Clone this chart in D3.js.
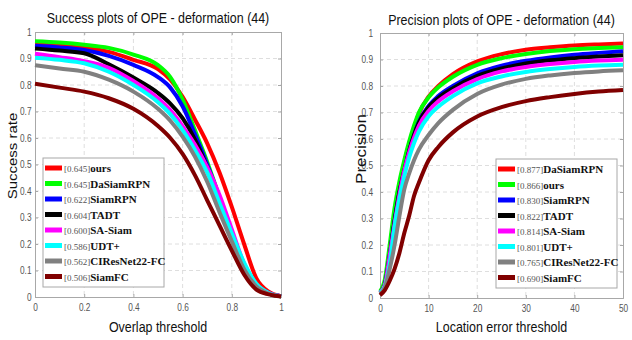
<!DOCTYPE html>
<html>
<head>
<meta charset="utf-8">
<script src="https://cdn.jsdelivr.net/npm/d3@7"></script>
<style>
  body { margin: 0; background: #fff; }
  text { font-family: "Liberation Sans", Arial, sans-serif; }
</style>
</head>
<body>
<div id="chart"></div>
<script>

// ---- data ----
var overlapT = [0, 0.1, 0.2, 0.3, 0.4, 0.5, 0.55, 0.6, 0.65, 0.7, 0.75, 0.8, 0.85, 0.9, 0.95, 1];
var errorT = [0, 1, 2, 3, 4, 5, 6, 7, 8, 10, 12, 15, 20, 25, 30, 35, 40, 45, 50];

var colors = ["#ff0000", "#00ff00", "#0000ff", "#000000", "#ff00ff", "#00ffff", "#808080", "#800000"];

var successNames = ["ours", "DaSiamRPN", "SiamRPN", "TADT", "SA-Siam", "UDT+", "CIResNet22-FC", "SiamFC"];
var successScores = ["0.645", "0.645", "0.622", "0.604", "0.600", "0.586", "0.562", "0.506"];
var successValues = [
  [0.955, 0.950, 0.942, 0.925, 0.895, 0.860, 0.820, 0.755, 0.670, 0.580, 0.470, 0.340, 0.200, 0.070, 0.020, 0.003],
  [0.965, 0.960, 0.952, 0.940, 0.915, 0.875, 0.830, 0.745, 0.630, 0.510, 0.375, 0.225, 0.100, 0.040, 0.013, 0.003],
  [0.948, 0.942, 0.932, 0.910, 0.876, 0.830, 0.790, 0.720, 0.615, 0.500, 0.375, 0.235, 0.105, 0.045, 0.015, 0.003],
  [0.938, 0.930, 0.920, 0.878, 0.828, 0.770, 0.730, 0.675, 0.595, 0.490, 0.370, 0.230, 0.110, 0.040, 0.013, 0.003],
  [0.918, 0.905, 0.890, 0.865, 0.815, 0.750, 0.705, 0.645, 0.575, 0.490, 0.385, 0.255, 0.125, 0.045, 0.015, 0.003],
  [0.903, 0.895, 0.882, 0.850, 0.800, 0.735, 0.690, 0.630, 0.555, 0.470, 0.355, 0.240, 0.130, 0.050, 0.015, 0.003],
  [0.875, 0.862, 0.850, 0.820, 0.775, 0.710, 0.665, 0.605, 0.530, 0.435, 0.320, 0.210, 0.105, 0.040, 0.013, 0.003],
  [0.805, 0.790, 0.775, 0.750, 0.710, 0.645, 0.600, 0.540, 0.460, 0.365, 0.270, 0.175, 0.085, 0.028, 0.010, 0.002]
];

var precisionNames = ["DaSiamRPN", "ours", "SiamRPN", "TADT", "SA-Siam", "UDT+", "CIResNet22-FC", "SiamFC"];
var precisionScores = ["0.877", "0.866", "0.830", "0.822", "0.814", "0.801", "0.765", "0.690"];
var precisionValues = [
  [0.020, 0.050, 0.180, 0.320, 0.420, 0.510, 0.580, 0.640, 0.695, 0.760, 0.800, 0.845, 0.893, 0.920, 0.937, 0.946, 0.953, 0.957, 0.960],
  [0.025, 0.070, 0.200, 0.340, 0.440, 0.520, 0.590, 0.650, 0.700, 0.757, 0.795, 0.835, 0.880, 0.905, 0.921, 0.932, 0.939, 0.943, 0.946],
  [0.020, 0.050, 0.160, 0.290, 0.400, 0.480, 0.555, 0.615, 0.665, 0.725, 0.762, 0.800, 0.848, 0.877, 0.895, 0.908, 0.918, 0.925, 0.931],
  [0.020, 0.050, 0.160, 0.290, 0.400, 0.480, 0.555, 0.615, 0.662, 0.720, 0.755, 0.792, 0.838, 0.866, 0.885, 0.897, 0.905, 0.911, 0.916],
  [0.020, 0.050, 0.160, 0.280, 0.390, 0.480, 0.550, 0.605, 0.650, 0.706, 0.742, 0.780, 0.826, 0.855, 0.872, 0.883, 0.891, 0.896, 0.899],
  [0.020, 0.045, 0.130, 0.270, 0.375, 0.460, 0.530, 0.585, 0.628, 0.686, 0.722, 0.762, 0.810, 0.836, 0.853, 0.864, 0.872, 0.877, 0.880],
  [0.015, 0.040, 0.110, 0.200, 0.310, 0.410, 0.470, 0.520, 0.560, 0.615, 0.660, 0.710, 0.770, 0.805, 0.827, 0.840, 0.849, 0.855, 0.859],
  [0.010, 0.030, 0.065, 0.110, 0.170, 0.245, 0.310, 0.385, 0.435, 0.520, 0.570, 0.625, 0.685, 0.720, 0.743, 0.758, 0.770, 0.779, 0.785]
];

var successXTicks = [0, 0.2, 0.4, 0.6, 0.8, 1];
var precisionXTicks = [0, 10, 20, 30, 40, 50];
var yTicks = [0, 0.1, 0.2, 0.3, 0.4, 0.5, 0.6, 0.7, 0.8, 0.9, 1];

// the original figure is squeezed sideways, so horizontal text is narrowed
var squeeze = 0.83;

var svg = d3.select("#chart")
  .append("svg")
    .attr("width", 632)
    .attr("height", 340);

function drawPanel(opt) {
  var x = d3.scaleLinear().domain(opt.xDomain).range([opt.left, opt.right]);
  var y = d3.scaleLinear().domain([0, 1]).range([opt.bottom, opt.top]);
  var g = svg.append("g");

  // grid
  g.selectAll(".gx").data(opt.xTicks.slice(1, -1)).enter().append("line")
    .attr("x1", function(d) { return x(d); }).attr("x2", function(d) { return x(d); })
    .attr("y1", opt.top).attr("y2", opt.bottom)
    .style("stroke", "#dedede").style("stroke-dasharray", "4,3");
  g.selectAll(".gy").data(yTicks.slice(1, -1)).enter().append("line")
    .attr("y1", function(d) { return y(d); }).attr("y2", function(d) { return y(d); })
    .attr("x1", opt.left).attr("x2", opt.right)
    .style("stroke", "#dedede").style("stroke-dasharray", "4,3");

  // axes (box with inward ticks)
  g.append("g").attr("class", "xax").attr("transform", "translate(0," + opt.bottom + ")")
    .call(d3.axisBottom(x).tickValues(opt.xTicks).tickSize(-3).tickPadding(7).tickFormat(d3.format("")));
  g.append("g").attr("class", "yax").attr("transform", "translate(" + opt.left + ",0)")
    .call(d3.axisLeft(y).tickValues(yTicks).tickSize(-3).tickPadding(opt.yPad).tickFormat(d3.format("")));
  g.append("g").attr("transform", "translate(0," + opt.top + ")")
    .call(d3.axisTop(x).tickValues(opt.xTicks).tickSize(-3).tickFormat(""));
  g.append("g").attr("transform", "translate(" + opt.right + ",0)")
    .call(d3.axisRight(y).tickValues(yTicks).tickSize(-3).tickFormat(""));
  g.selectAll(".domain, .tick line").style("stroke", "#a8a8a8");
  g.selectAll(".tick text")
    .style("font-size", "10px")
    .style("fill", "#555");
  g.selectAll(".yax .tick text")
    .attr("x", -opt.yPad / squeeze)
    .attr("transform", "scale(" + squeeze + ",1)");
  g.selectAll(".xax .tick text")
    .attr("transform", "scale(" + squeeze + ",1)");

  // curves
  var line = d3.line()
    .x(function(d) { return x(d[0]); })
    .y(function(d) { return y(d[1]); })
    .curve(d3.curveMonotoneX);
  opt.values.forEach(function(vals, i) {
    var pts = opt.thresholds.map(function(t, j) { return [t, vals[j]]; });
    g.append("path")
      .attr("d", line(pts))
      .style("fill", "none")
      .style("stroke", colors[i])
      .style("stroke-width", 4)
      .style("stroke-linejoin", "round");
  });

  // title and axis labels
  var cx = (opt.left + opt.right) / 2;
  g.append("text")
    .attr("transform", "translate(" + cx + "," + opt.titleY + ") scale(" + squeeze + ",1)")
    .attr("text-anchor", "middle")
    .style("font-size", "15px").style("fill", "#111")
    .text(opt.title);
  g.append("text")
    .attr("transform", "translate(" + cx + ",332) scale(" + squeeze + ",1)")
    .attr("text-anchor", "middle")
    .style("font-size", "15px").style("fill", "#111")
    .text(opt.xLabel);
  g.append("text")
    .attr("transform", "translate(" + opt.yLabelX + "," + opt.yLabelY + ") scale(" + squeeze + ",1) rotate(-90)")
    .attr("text-anchor", "middle")
    .style("font-size", opt.yLabelSize).style("fill", "#111")
    .text(opt.yLabel);

  // legend
  var lg = g.append("g").attr("transform", "translate(" + opt.legX + "," + opt.legY + ")");
  lg.append("rect")
    .attr("width", 121).attr("height", 129)
    .style("fill", "#fff").style("stroke", "#a8a8a8");
  opt.names.forEach(function(name, i) {
    var yy = 10 + i * 15.5;
    lg.append("line")
      .attr("x1", 2).attr("x2", 19)
      .attr("y1", yy).attr("y2", yy)
      .style("stroke", colors[i]).style("stroke-width", 5);
    var t = lg.append("text")
      .attr("x", 21).attr("y", yy + 4)
      .style("font-family", "'Liberation Serif', 'DejaVu Serif', serif");
    t.append("tspan")
      .style("font-size", "9px").style("fill", "#555")
      .text("[" + opt.scores[i] + "]");
    t.append("tspan")
      .style("font-size", "11px").style("font-weight", "bold").style("fill", "#111")
      .text(name);
  });
}

drawPanel({
  left: 35, right: 281, top: 32, bottom: 297,
  xDomain: [0, 1], xTicks: successXTicks, yPad: 3.5,
  thresholds: overlapT, values: successValues,
  title: "Success plots of OPE - deformation (44)", titleY: 23,
  xLabel: "Overlap threshold",
  yLabel: "Success rate", yLabelX: 17, yLabelY: 156, yLabelSize: "15px",
  names: successNames, scores: successScores,
  legX: 43, legY: 158
});

drawPanel({
  left: 380, right: 623, top: 33, bottom: 298,
  xDomain: [0, 50], xTicks: precisionXTicks, yPad: 7,
  thresholds: errorT, values: precisionValues,
  title: "Precision plots of OPE - deformation (44)", titleY: 25,
  xLabel: "Location error threshold",
  yLabel: "Precision", yLabelX: 366, yLabelY: 149, yLabelSize: "17px",
  names: precisionNames, scores: precisionScores,
  legX: 496, legY: 159
});

</script>
</body>
</html>
